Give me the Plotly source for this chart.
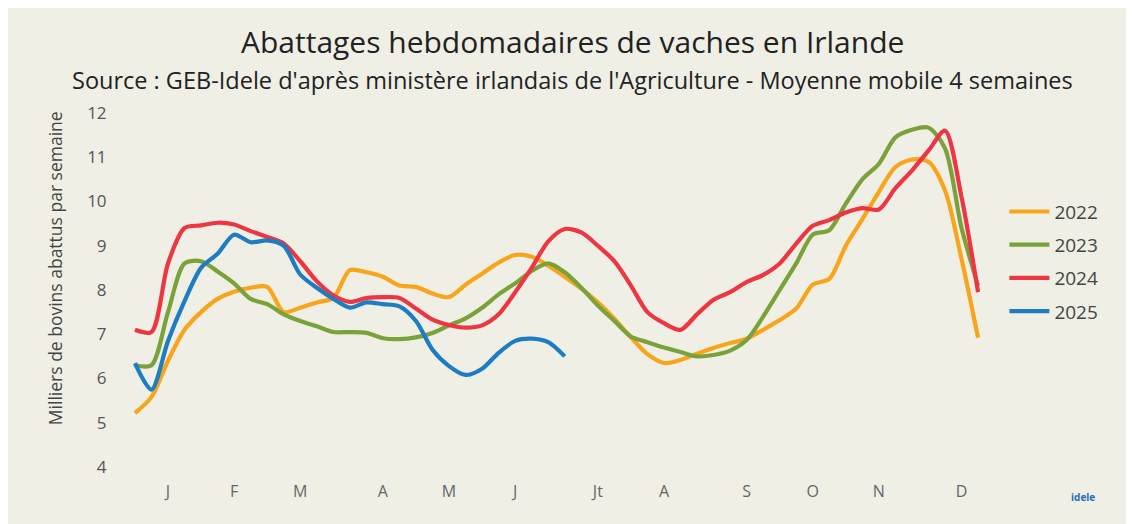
import plotly.graph_objects as go

weeks = list(range(1, 53))

y2022 = [5.22, 5.58, 6.4, 7.1, 7.5, 7.8, 7.96, 8.05, 8.07, 7.5,
         7.6, 7.72, 7.82, 8.45, 8.4, 8.3, 8.1, 8.07, 7.92, 7.84,
         8.12, 8.37, 8.62, 8.79, 8.75, 8.55, 8.3, 8.03, 7.72, 7.35,
         6.93, 6.55, 6.35, 6.42, 6.56, 6.69, 6.8, 6.9, 7.1, 7.32,
         7.58, 8.12, 8.25, 9.0, 9.6, 10.22, 10.78, 10.95, 10.9, 10.25,
         8.7, 6.92]
y2023 = [6.3, 6.3, 7.5, 8.6, 8.65, 8.42, 8.15, 7.8, 7.68, 7.45,
         7.3, 7.18, 7.05, 7.05, 7.03, 6.91, 6.89, 6.93, 7.03, 7.2,
         7.36, 7.6, 7.9, 8.15, 8.43, 8.6, 8.4, 8.05, 7.65, 7.3,
         6.95, 6.82, 6.7, 6.6, 6.5, 6.53, 6.63, 6.87, 7.4, 8.0,
         8.6, 9.25, 9.35, 9.95, 10.5, 10.85, 11.45, 11.62, 11.67, 11.2,
         9.4, 8.1]
y2024 = [7.1, 7.05, 8.6, 9.4, 9.46, 9.52, 9.48, 9.33, 9.2, 9.05,
         8.65, 8.2, 7.88, 7.73, 7.82, 7.84, 7.82, 7.58, 7.33, 7.21,
         7.15, 7.2, 7.45, 7.95, 8.5, 9.1, 9.38, 9.3, 9.0, 8.65,
         8.1, 7.5, 7.25, 7.1, 7.45, 7.78, 7.95, 8.18, 8.34, 8.6,
         9.05, 9.45, 9.58, 9.75, 9.85, 9.82, 10.3, 10.7, 11.15, 11.6,
         10.1, 7.95]
y2025 = [6.35, 5.75, 6.85, 7.75, 8.5, 8.82, 9.25, 9.08, 9.12, 9.0,
         8.35, 8.05, 7.8, 7.6, 7.72, 7.68, 7.63, 7.3, 6.65, 6.28,
         6.08, 6.22, 6.58, 6.85, 6.9, 6.82, 6.5]

series_names = ["2022", "2023", "2024", "2025"]
series_values = [y2022, y2023, y2024, y2025]
colors = ["#F9A51B", "#7BA23A", "#EE3542", "#1E7DC2"]

month_weeks = [3, 7, 11, 16, 20, 24, 29, 33, 38, 42, 46, 51]
month_labels = ["J", "F", "M", "A", "M", "J", "Jt", "A", "S", "O", "N", "D"]
y_ticks = [4, 5, 6, 7, 8, 9, 10, 11, 12]

bg = "#EFEFE6"
font_family = "Open Sans"

fig = go.Figure()
for i, (name, vals, col) in enumerate(zip(series_names, series_values, colors)):
    fig.add_trace(go.Scatter(
        x=weeks[:len(vals)], y=vals, name=name, mode="lines",
        line=dict(color=col, width=4.2, shape="spline", smoothing=0.8),
        legendgroup=name,
    ))

fig.update_layout(
    width=1134, height=524,
    paper_bgcolor=bg, plot_bgcolor=bg,
    margin=dict(l=117, r=154, t=105, b=65),
    font=dict(family=font_family, color="#444444"),
    showlegend=True,
    legend=dict(x=1.019, y=0.775, xanchor="left", yanchor="top",
                font=dict(size=19, color="#444444"), itemwidth=40,
                tracegroupgap=5.5, bgcolor="rgba(0,0,0,0)"),
    xaxis=dict(range=[0.4, 52.6], tickmode="array", tickvals=month_weeks,
               ticktext=month_labels, showgrid=False, zeroline=False,
               showline=False, ticks="outside", ticklen=10,
               tickcolor="rgba(0,0,0,0)",
               tickfont=dict(size=16, color="#666666")),
    yaxis=dict(range=[4, 12], tickmode="array", tickvals=y_ticks,
               showgrid=False, zeroline=False, showline=False,
               ticks="outside", ticklen=14, tickcolor="rgba(0,0,0,0)",
               tickfont=dict(size=17, color="#555555")),
    annotations=[
        dict(text="Abattages hebdomadaires de vaches en Irlande",
             xref="paper", yref="paper", x=0.518, y=1.2006,
             xanchor="center", yanchor="middle", showarrow=False,
             font=dict(size=30, color="#222222")),
        dict(text="Source : GEB-Idele d'après ministère irlandais de l'Agriculture - Moyenne mobile 4 semaines",
             xref="paper", yref="paper", x=0.518, y=1.093,
             xanchor="center", yanchor="middle", showarrow=False,
             font=dict(size=23.5, color="#222222")),
        dict(text="Milliers de bovins abattus par semaine",
             xref="paper", yref="paper", x=-0.081, y=0.562,
             xanchor="center", yanchor="middle", showarrow=False,
             textangle=-90, font=dict(size=17.5, color="#444444")),
        dict(text="<b>idele</b>",
             xref="paper", yref="paper", x=1.11, y=-0.085,
             xanchor="center", yanchor="middle", showarrow=False,
             font=dict(size=10, color="#2A6FB5")),
    ],
)

fig.write_html("out.html")
